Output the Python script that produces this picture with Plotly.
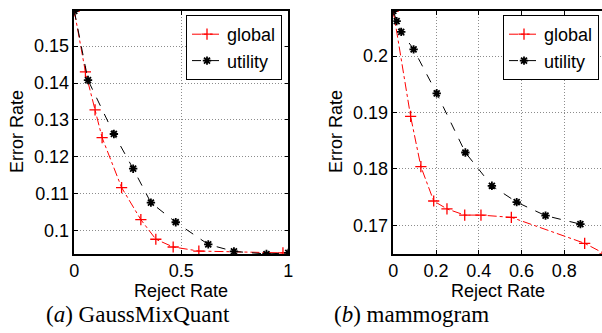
import plotly.graph_objects as go

# ---- data: (a) GaussMixQuant ----
a_global_x = [0, 0.052, 0.097, 0.130, 0.221, 0.311, 0.381, 0.462, 0.582, 0.975]
a_global_y = [0.1595, 0.1430, 0.1327, 0.1252, 0.1117, 0.1030, 0.0977, 0.0956, 0.0945, 0.0940]
a_util_x = [0, 0.064, 0.185, 0.275, 0.358, 0.474, 0.626, 0.746, 0.898, 1.0]
a_util_y = [0.1595, 0.1408, 0.1262, 0.1168, 0.1076, 0.1023, 0.0963, 0.0944, 0.0937, 0.0940]

# ---- data: (b) mammogram ----
b_global_x = [0, 0.081, 0.129, 0.189, 0.251, 0.334, 0.410, 0.552, 0.895, 0.99]
b_global_y = [0.2080, 0.1893, 0.1804, 0.1743, 0.1729, 0.1718, 0.1718, 0.1714, 0.1668, 0.1649]
b_util_x = [0, 0.0156, 0.037, 0.095, 0.203, 0.337, 0.461, 0.577, 0.712, 0.875]
b_util_y = [0.2080, 0.2062, 0.2043, 0.2012, 0.1934, 0.1829, 0.1770, 0.1741, 0.1717, 0.1702]

a_xticks = [0, 0.5, 1]
a_xlabels = ["0", "0.5", "1"]
a_yticks = [0.10, 0.11, 0.12, 0.13, 0.14, 0.15]
a_ylabels = ["0.1", "0.11", "0.12", "0.13", "0.14", "0.15"]
b_xticks = [0, 0.2, 0.4, 0.6, 0.8]
b_xlabels = ["0", "0.2", "0.4", "0.6", "0.8"]
b_yticks = [0.17, 0.18, 0.19, 0.20]
b_ylabels = ["0.17", "0.18", "0.19", "0.2"]

W, H = 602, 333
FONT = "Liberation Sans"

def px_x(p):
    return p / W

def px_y(p):
    return (H - p) / H

red_style = dict(mode="lines+markers",
                 line=dict(color="red", width=1, dash="dashdot"),
                 marker=dict(symbol="cross-thin-open", size=8,
                             line=dict(color="red", width=1.3), color="red"))
blk_style = dict(mode="lines+markers",
                 line=dict(color="black", width=1, dash="dash"),
                 marker=dict(symbol="asterisk-open", size=7,
                             line=dict(color="black", width=1.8), color="black"))

fig = go.Figure()
fig.add_trace(go.Scatter(x=a_global_x, y=a_global_y, name="global", xaxis="x", yaxis="y",
                         legend="legend", **red_style))
fig.add_trace(go.Scatter(x=a_util_x, y=a_util_y, name="utility", xaxis="x", yaxis="y",
                         legend="legend", **blk_style))
fig.add_trace(go.Scatter(x=b_global_x, y=b_global_y, name="global", xaxis="x2", yaxis="y2",
                         legend="legend2", **red_style))
fig.add_trace(go.Scatter(x=b_util_x, y=b_util_y, name="utility", xaxis="x2", yaxis="y2",
                         legend="legend2", **blk_style))

ax_common = dict(showline=True, linecolor="black", linewidth=1.5, automargin=False,
                 ticks="inside", ticklen=4, tickcolor="black", tickwidth=1,
                 showgrid=True, gridcolor="#8c8c8c", griddash="1px,2px", gridwidth=1,
                 zeroline=False, tickfont=dict(family=FONT, size=18, color="black"))

ydom = [px_y(254), px_y(11)]
leg_font = dict(family=FONT, size=18, color="black")
fig.update_layout(
    width=W, height=H, margin=dict(l=0, r=0, t=0, b=0),
    paper_bgcolor="white", plot_bgcolor="white", showlegend=True,
    xaxis=dict(domain=[px_x(74.3), px_x(288.3)], range=[0, 1], anchor="y",
               tickvals=a_xticks, ticktext=a_xlabels, mirror="ticks", **ax_common),
    yaxis=dict(domain=ydom, range=[0.0937, 0.1595], anchor="x",
               tickvals=a_yticks, ticktext=a_ylabels, mirror="ticks", **ax_common),
    xaxis2=dict(domain=[px_x(393.3), 1.0], range=[0, 0.976], anchor="y2",
                tickvals=b_xticks, ticktext=b_xlabels, mirror="ticks", **ax_common),
    yaxis2=dict(domain=ydom, range=[0.1649, 0.2080], anchor="x2",
                tickvals=b_yticks, ticktext=b_ylabels, mirror=False, **ax_common),
    legend=dict(x=px_x(282), y=px_y(15), xanchor="right", yanchor="top",
                bgcolor="white", bordercolor="black", borderwidth=1,
                font=leg_font, tracegroupgap=0),
    legend2=dict(x=px_x(599), y=px_y(15), xanchor="right", yanchor="top",
                 bgcolor="white", bordercolor="black", borderwidth=1,
                 font=leg_font, tracegroupgap=0),
)

title_font = dict(family=FONT, size=18, color="black")
cap_font = dict(family="Liberation Serif", size=23, color="black")
annos = [
    dict(text="Reject Rate", x=px_x(181), y=px_y(291), font=title_font),
    dict(text="Reject Rate", x=px_x(498), y=px_y(291), font=title_font),
    dict(text="Error Rate", x=px_x(17), y=px_y(132), font=title_font, textangle=-90),
    dict(text="Error Rate", x=px_x(336), y=px_y(132), font=title_font, textangle=-90),
    dict(text="(<i>a</i>) GaussMixQuant", x=px_x(138), y=px_y(314), font=cap_font),
    dict(text="(<i>b</i>) mammogram", x=px_x(411), y=px_y(314), font=cap_font),
]
for a in annos:
    fig.add_annotation(xref="paper", yref="paper", showarrow=False,
                       xanchor="center", yanchor="middle", **a)

fig.write_html("out.html", config={"displayModeBar": False},
               post_script="document.body.style.margin='0px';document.body.style.overflow='hidden';")
